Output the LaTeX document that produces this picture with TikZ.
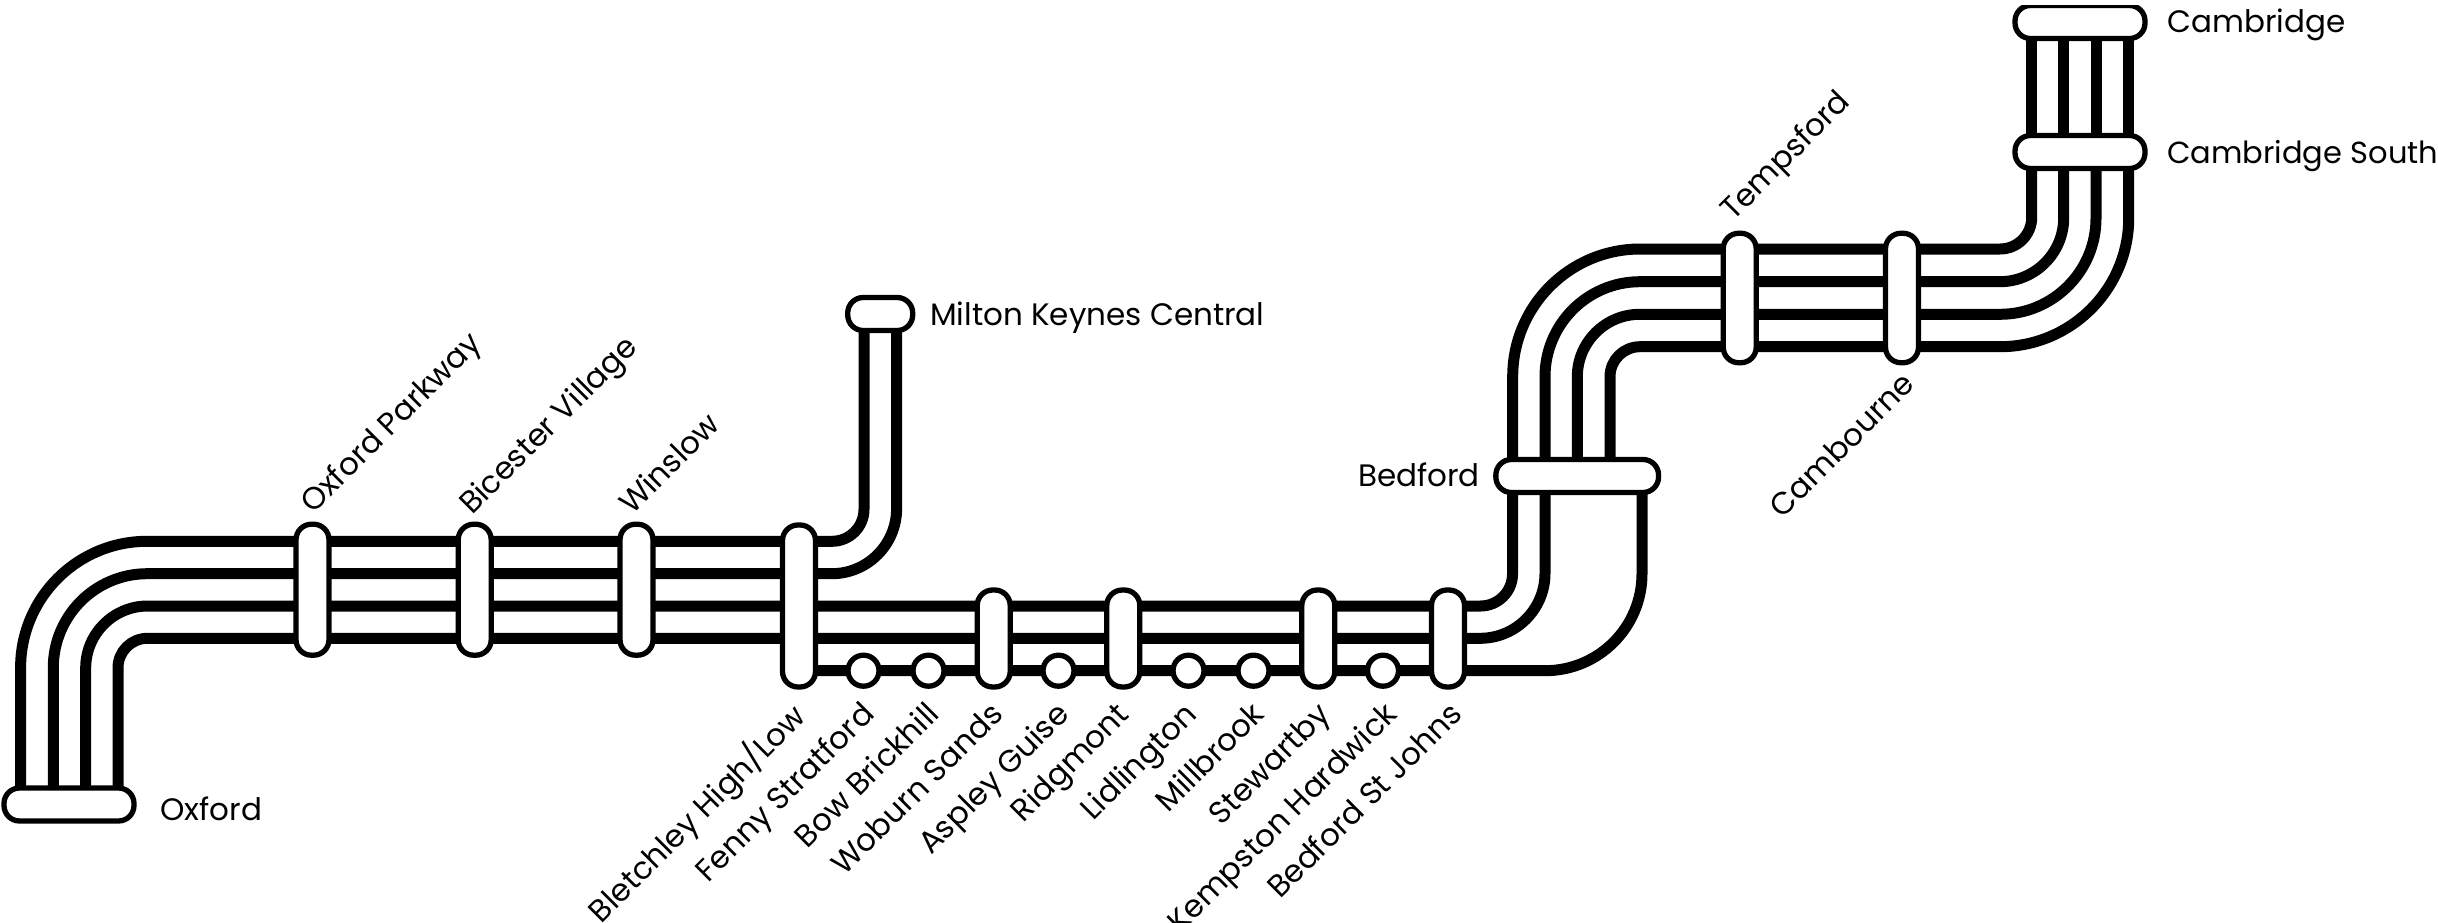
\documentclass[tikz,border=0pt]{standalone}
\usepackage{fontspec}
\setmainfont{Poppins}
\usetikzlibrary{calc,backgrounds}
\tikzset{
  track/.style={line width=11pt,draw=black},
  stn/.style={draw=black,fill=white,line width=5.3pt,inner sep=0pt,outer sep=0pt,rounded corners=15.5pt},
  vpill/.style={stn,minimum width=33pt},
  hcap/.style={stn,minimum height=33pt},
  dot/.style={draw=black,fill=white,line width=5.3pt,circle,inner sep=0pt,outer sep=0pt,minimum size=31pt},
  lab/.style={font=\fontsize{31}{31}\selectfont,inner sep=0pt,text=black},
  ne/.style={lab,anchor=base east,rotate=45},
  nw/.style={lab,anchor=base west,rotate=45},
}
\begin{document}
\begin{tikzpicture}[x=1pt,y=-1pt]
\useasboundingbox (0,0) rectangle (2438,923);
\node[hcap,minimum width=130pt] (oxford) at (69,804.5) {};
\node[vpill,minimum height=131pt] (oxp) at (312.5,589.7) {};
\node[vpill,minimum height=131pt] (bic) at (474.7,589.7) {};
\node[vpill,minimum height=131pt] (win) at (636.5,589.7) {};
\node[vpill,minimum height=162pt] (ble) at (799,606) {};
\node[hcap,minimum width=65pt] (mk) at (880.2,314) {};
\node[dot] (fen) at (863.5,670.7) {};
\node[dot] (bow) at (928.5,670.7) {};
\node[vpill,minimum height=97pt] (wob) at (993.7,638.5) {};
\node[dot] (asp) at (1058.5,670.7) {};
\node[vpill,minimum height=97pt] (rid) at (1123.3,638.5) {};
\node[dot] (lid) at (1188.5,670.7) {};
\node[dot] (mil) at (1253.5,670.7) {};
\node[vpill,minimum height=97pt] (ste) at (1318.3,638.5) {};
\node[dot] (kem) at (1383,670.7) {};
\node[vpill,minimum height=97pt] (bsj) at (1448,638.5) {};
\node[hcap,minimum width=162.7pt] (bed) at (1577.2,476) {};
\node[vpill,minimum height=129.5pt] (tem) at (1739.7,298) {};
\node[vpill,minimum height=129.5pt] (cam) at (1902,298) {};
\node[hcap,minimum width=130pt] (cs) at (2080,152) {};
\begin{scope}
\clip (0,6) rectangle (2438,923);
\node[hcap,minimum width=130pt] (cb) at (2080,22) {};
\end{scope}

\begin{scope}[on background layer]
\draw[track,rounded corners=126.5pt] ($(oxford)+(-48.4,0)$) |- ($(ble)+(0,-64.7)$);
\draw[track,rounded corners=94pt] ($(oxford)+(-15.7,0)$) |- ($(ble)+(0,-32.3)$);
\draw[track,rounded corners=62pt] ($(oxford)+(16.7,0)$) |- (ble);
\draw[track,rounded corners=29.5pt] ($(oxford)+(49,0)$) |- ($(ble)+(0,32.3)$);
\draw[track,rounded corners=32pt] ($(ble)+(0,-64.7)$) -| ($(mk)+(-16.2,0)$);
\draw[track,rounded corners=65pt] ($(ble)+(0,-32.3)$) -| ($(mk)+(16.4,0)$);
\draw[track,rounded corners=32pt] (ble) -| ($(bed)+(-64.7,0)$);
\draw[track,rounded corners=65pt] ($(ble)+(0,32.3)$) -| ($(bed)+(-32.2,0)$);
\draw[track,rounded corners=97pt] ($(ble)+(0,64.7)$) -| ($(bed)+(64.8,0)$);
\draw[track,rounded corners=127.5pt] ($(bed)+(-64.5,0)$) |- ($(tem)+(0,-49)$);
\draw[track,rounded corners=95pt] ($(bed)+(-32.2,0)$) |- ($(tem)+(0,-16.3)$);
\draw[track,rounded corners=62.5pt] ($(bed)+(0.1,0)$) |- ($(tem)+(0,16.3)$);
\draw[track,rounded corners=30pt] ($(bed)+(32.8,0)$) |- ($(tem)+(0,48.7)$);
\draw[track,rounded corners=31.7pt] ($(tem)+(0,-49)$) -| ($(cs)+(-48.3,0)$);
\draw[track,rounded corners=64pt] ($(tem)+(0,-16.3)$) -| ($(cs)+(-16.3,0)$);
\draw[track,rounded corners=96pt] ($(tem)+(0,16.3)$) -| ($(cs)+(16,0)$);
\draw[track,rounded corners=128.7pt] ($(tem)+(0,48.7)$) -| ($(cs)+(48.7,0)$);
\draw[track] ($(cs)+(-48.3,0)$) -- ($(cb)+(-48.3,0)$);
\draw[track] ($(cs)+(-16.3,0)$) -- ($(cb)+(-16.3,0)$);
\draw[track] ($(cs)+(16,0)$) -- ($(cb)+(16,0)$);
\draw[track] ($(cs)+(48.7,0)$) -- ($(cb)+(48.7,0)$);
\end{scope}

\node[lab,anchor=base west] (loxford) at (160,820.7) {Oxford};
\node[lab,anchor=base west] (lmk) at (930,325) {Milton Keynes Central};
\node[lab,anchor=base west] (lcb) at (2167,32.5) {Cambridge};
\node[lab,anchor=base west,font=\fontsize{30.5}{31}\selectfont] (lcs) at (2167,163.5) {Cambridge South};
\node[lab,anchor=base east] (lbed) at (1480,486.7) {Bedford};
\node[nw] (loxp) at (313,515) {Oxford Parkway};
\node[nw] (lbic) at (472,516) {Bicester Village};
\node[nw] (lwin) at (632,516) {Winslow};
\node[nw] (ltem) at (1733,222) {Tempsford};
\node[ne] (lcam) at (1916,386) {Cambourne};
\node[ne] (lble) at (808,718) {Bletchley High/Low};
\node[ne] (lfen) at (876,716) {Fenny Stratford};
\node[ne] (lbow) at (941,716) {Bow Brickhill};
\node[ne] (lwob) at (1005,716) {Woburn Sands};
\node[ne] (lasp) at (1071,716) {Aspley Guise};
\node[ne] (lrid) at (1131,716) {Ridgmont};
\node[ne] (llid) at (1199,716) {Lidlington};
\node[ne] (lmil) at (1266,716) {Millbrook};
\node[ne] (lste) at (1332,716) {Stewartby};
\node[ne] (lkem) at (1399,716) {Kempston Hardwick};
\node[ne] (lbsj) at (1464,716) {Bedford St Johns};
\end{tikzpicture}
\end{document}
